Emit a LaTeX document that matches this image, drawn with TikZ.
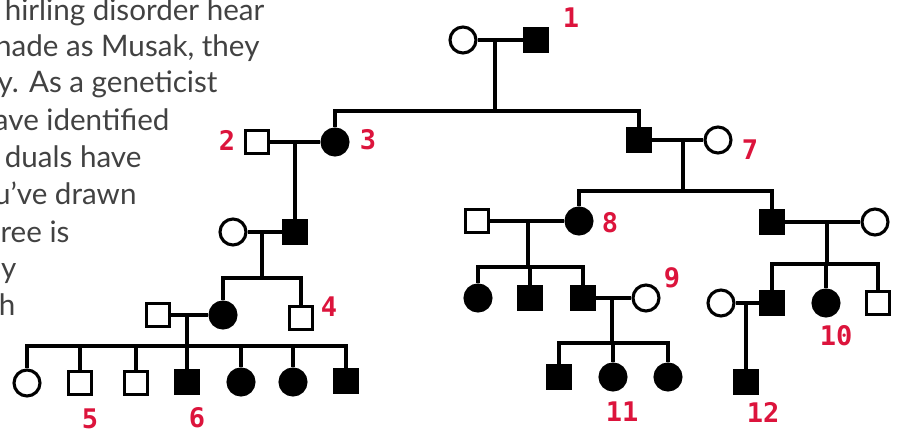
\documentclass[tikz,border=0pt]{standalone}
\usepackage{fontspec}
\setmainfont{Lato}
\newfontfamily\tagfont{DejaVu Sans Mono}
\definecolor{tagred}{RGB}{220,20,60}
\definecolor{prosegray}{RGB}{66,66,66}
\begin{document}
\begin{tikzpicture}[x=1pt,y=-1pt, line width=3.1pt,
  person/.style={draw=black, line width=3.1pt, inner sep=0pt, fill=white},
  female/.style={person, circle, minimum size=26pt},
  male/.style={person, rectangle, minimum size=22.5pt},
  affected/.style={fill=black},
  tag/.style={text=tagred, inner sep=0pt, font=\tagfont\bfseries\fontsize{27}{27}\selectfont},
  prose/.style={text=prosegray, inner sep=0pt, anchor=base east, font=\fontsize{29.6}{29.6}\selectfont}]
\useasboundingbox (0,0) rectangle (899,432);
\clip (0,0) rectangle (899,432);

% running text beside the chart
\node[prose] (t1) at (266,20)  {hirling disorder hear};
\node[prose] (t2) at (261,56)  {nade as Musak, they};
\node[prose] (t3) at (219,92)  {y. As a geneticist};
\node[prose] (t4) at (171,130) {ave identified};
\node[prose] (t5) at (143,167) {duals have};
\node[prose] (t6) at (138,204) {u’ve drawn};
\node[prose] (t7) at (71,242)  {ree is};
\node[prose] (t8) at (18,278)  {ly};
\node[prose] (t9) at (17,315)  {h};

% generation I
\node[female] (a1) at (463,40) {};
\node[male, affected] (a2) at (536,40) {};
\coordinate (a12) at (495,40);
\coordinate (a12s) at (495,111);

% generation II
\node[male] (b2) at (257,142) {};
\node[female, affected] (b3) at (335,142) {};
\node[male, affected] (b6) at (639,140) {};
\node[female] (b7) at (718,140) {};
\coordinate (b23) at (295,142);
\coordinate (b67) at (683,140);
\coordinate (b67s) at (683,191);

% generation III
\node[female] (c1) at (233,232) {};
\node[male, affected] (c2) at (295,232) {};
\node[male] (c3) at (477,221) {};
\node[female, affected] (c4) at (579,221) {};
\node[male, affected] (c6) at (772,222) {};
\node[female] (c7) at (875,222) {};
\coordinate (c12) at (262,232);
\coordinate (c12s) at (262,278);
\coordinate (c34) at (528,221);
\coordinate (c34s) at (528,267);
\coordinate (c67) at (827,222);
\coordinate (c67s) at (827,264);

% generation IV
\node[male] (d1) at (158,315) {};
\node[female, affected] (d2) at (223,315) {};
\node[male] (d3) at (301,318) {};
\node[female, affected] (d4) at (478,298) {};
\node[male, affected] (d5) at (530,298) {};
\node[male, affected] (d6) at (583,298) {};
\node[female] (d7) at (646,298) {};
\node[female] (d8) at (721,303) {};
\node[male, affected] (d9) at (772,303) {};
\node[female, affected] (d10) at (826,303) {};
\node[male] (d11) at (878,303) {};
\coordinate (d12) at (187,315);
\coordinate (d12s) at (187,346);
\coordinate (d67) at (612,298);
\coordinate (d67s) at (612,343);
\coordinate (d89) at (746,303);

% generation V
\node[female] (e1) at (27,383) {};
\node[male] (e2) at (80,383) {};
\node[male] (e3) at (136,383) {};
\node[male, affected] (e4) at (187,382) {};
\node[female, affected] (e5) at (241,382) {};
\node[female, affected] (e6) at (293,382) {};
\node[male, affected] (e7) at (346,381) {};
\node[male, affected] (e8) at (559,377) {};
\node[female, affected] (e9) at (613,377) {};
\node[female, affected] (e10) at (668,377) {};
\node[male, affected] (e11) at (746,382) {};

% matings and lines of descent
\draw (a1) -- (a2);
\draw (a12) -- (a12s);
\draw (a12s) -| (b3);
\draw (a12s) -| (b6);

\draw (b2) -- (b3);
\draw (b23) -- (c2);
\draw (b6) -- (b7);
\draw (b67) -- (b67s);
\draw (b67s) -| (c4);
\draw (b67s) -| (c6);

\draw (c1) -- (c2);
\draw (c12) -- (c12s);
\draw (c12s) -| (d2);
\draw (c12s) -| (d3);

\draw (c3) -- (c4);
\draw (c34) -- (c34s);
\draw (c34s) -| (d4);
\draw (c34s) -| (d5);
\draw (c34s) -| (d6);

\draw (c6) -- (c7);
\draw (c67) -- (c67s);
\draw (c67s) -| (d9);
\draw (c67s) -| (d10);
\draw (c67s) -| (d11);

\draw (d1) -- (d2);
\draw (d12) -- (d12s);
\foreach \k in {e1,e2,e3,e4,e5,e6,e7} \draw (d12s) -| (\k);

\draw (d6) -- (d7);
\draw (d67) -- (d67s);
\foreach \k in {e8,e9,e10} \draw (d67s) -| (\k);

\draw (d8) -- (d9);
\draw (d89) -- (e11);

% individual numbers
\node[tag] (n1) at (571,18) {1};
\node[tag] (n2) at (227,140) {2};
\node[tag] (n3) at (368,140) {3};
\node[tag] (n4) at (329,307) {4};
\node[tag] (n5) at (90,419) {5};
\node[tag] (n6) at (197,418) {6};
\node[tag] (n7) at (750,150) {7};
\node[tag] (n8) at (610,223) {8};
\node[tag] (n9) at (672,278) {9};
\node[tag] (n10) at (836,336) {10};
\node[tag] (n11) at (622,412) {11};
\node[tag] (n12) at (763,412) {12};
\end{tikzpicture}
\end{document}
